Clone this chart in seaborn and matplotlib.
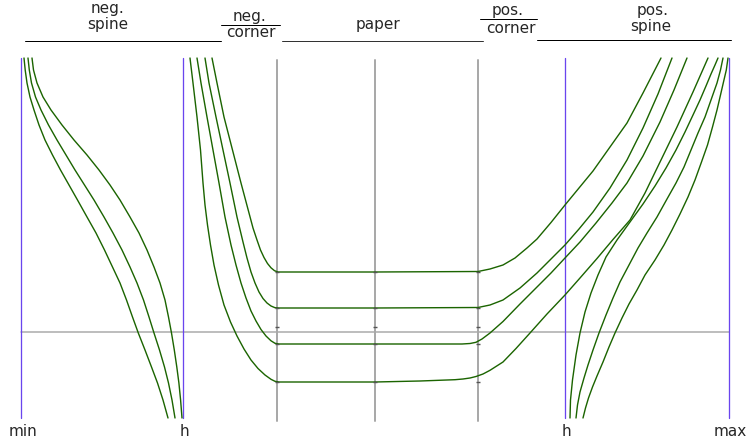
import numpy as np
import pandas as pd
import matplotlib
matplotlib.use("Agg")
import matplotlib.pyplot as plt
import seaborn as sns

# ---------------- data (pixel-like units) ----------------
spine_y = [58, 70, 83, 97, 110, 125, 140, 155, 170, 185, 200, 217, 233, 250,
           267, 283, 300, 317, 333, 350, 367, 383, 400, 418]
# left spine traces (between "min" and "h")
spine_left_1_x = [24, 25.2, 27, 30, 34, 39, 45, 52.5, 60.5, 69, 77.5, 87, 96, 104.5,
                  112.5, 120, 126.5, 132.5, 138.3, 145, 151.5, 157.5, 163, 168]
spine_left_2_x = [28, 29.3, 31.5, 35.5, 41, 48.5, 57, 66, 75, 84.5, 94, 104, 113, 122,
                  130, 137, 143.5, 149, 154, 159.5, 164.5, 168.5, 172, 175]
spine_left_3_x = [32, 33.5, 37, 43, 51, 62, 74, 87, 99, 110, 120, 130, 139, 147,
                  154, 160, 165, 168.5, 171.5, 174.3, 176.8, 178.9, 180.6, 182]

# traces through the corners and across the paper
trace_a_x = [212, 217, 224, 232.5, 241, 249, 253, 257, 260.5, 264, 267.5, 271, 274.5, 278,
             375, 478, 490, 503, 515, 527, 537, 551, 565, 579, 593, 610, 627, 643, 661]
trace_a_y = [58, 83, 117, 150, 183, 213, 228, 240, 250, 257.5, 263.5, 267.8, 270.7, 272,
             272, 271.5, 269, 265, 258, 248, 239, 222.5, 205, 188, 171, 147, 123, 93, 58]
trace_b_x = [205, 209, 216, 223, 230, 237, 243, 247, 251, 255, 259, 263, 267, 271, 275, 279,
             375, 478, 490, 503, 520, 537, 551, 565, 579, 593, 610, 627, 643, 658, 672]
trace_b_y = [58, 83, 117, 150, 183, 217, 242, 258, 272, 283, 292, 298.5, 303, 306, 307.7, 308,
             308, 307.5, 305, 300, 288, 273, 259, 245, 229, 212, 188, 160, 128, 94, 58]
trace_c_x = [197, 201, 207, 213, 219, 225, 231, 236, 241, 246, 251, 256, 261, 266, 271, 275, 279,
             375, 462, 470, 476, 482, 490, 503, 520, 537, 551, 565, 580, 596, 612, 627, 643,
             660, 674, 687]
trace_c_y = [58, 83, 117, 150, 183, 217, 245, 265, 283, 298, 311, 321, 329.5, 336, 340.8, 343.3, 344,
             344, 344, 343.5, 342.3, 339, 333, 321.5, 304, 287, 273, 258, 242, 223, 203, 183, 156,
             122, 90, 58]
trace_d_x = [190, 193, 197, 200.5, 203, 205, 207.5, 210.5, 214, 218.5, 224, 230.5, 237, 244, 251,
             258, 265, 271, 275, 279, 375, 420, 455, 463, 470, 476, 483, 490, 503, 516, 530, 547,
             565, 580, 597, 613, 630, 645, 661, 677, 693, 708]
trace_d_y = [58, 83, 117, 150, 183, 205, 225, 245, 265, 285, 305, 322, 336, 349, 360,
             368.5, 375, 379.3, 381.3, 382, 382, 381, 379.7, 379, 378, 376.5, 374, 370.3, 362, 348.5,
             333, 314, 295, 278, 258.5, 239.5, 220, 193, 160, 127, 92, 58]

# right spine traces (between "h" and "max")
spine_right_1_x = [570, 570.5, 572.5, 576, 580, 585, 591, 598, 606, 617, 630, 643, 655, 666,
                   676, 685, 693, 700, 706, 711, 715, 718]
spine_right_1_y = [418, 400, 380, 355, 333, 312, 293, 275, 257, 240, 222, 204, 186, 168,
                   150, 132, 115, 100, 86, 74, 65, 58]
spine_right_2_x = [576, 577.5, 580, 584, 588, 593, 599, 606, 613, 620, 629, 638, 647, 657, 667,
                   676, 684, 691, 698, 705, 711, 717, 720.5, 723]
spine_right_2_y = [418, 405, 392, 378, 365, 350, 333, 315, 298, 282, 265, 248, 233, 217, 199,
                   183, 167, 150, 133, 117, 100, 83, 70, 58]
spine_right_3_x = [583, 585.5, 588.5, 592.5, 597, 603, 609, 615, 622, 629, 637, 645, 655, 664,
                   672, 680, 688, 695, 701.5, 707.5, 712.5, 717, 720.5, 723.5, 726.3, 728]
spine_right_3_y = [418, 408, 398, 387, 376, 362, 347, 333, 318, 304, 290, 275, 260, 245,
                   230, 214, 197, 180, 162, 145, 127, 110, 95, 82, 70, 58]

# guide lines
bound_x = [21, 183, 565, 729]          # min, h, h, max
bound_labels = ["min", "h", "h", "max"]
region_x = [277, 375, 478]             # corner / paper separators
axis_y = 332
tick_y = [272, 308, 327, 344, 382]

# ---------------- build table ----------------
curves = {
    "sl1": (spine_left_1_x, spine_y),
    "sl2": (spine_left_2_x, spine_y),
    "sl3": (spine_left_3_x, spine_y),
    "ta": (trace_a_x, trace_a_y),
    "tb": (trace_b_x, trace_b_y),
    "tc": (trace_c_x, trace_c_y),
    "td": (trace_d_x, trace_d_y),
    "sr1": (spine_right_1_x, spine_right_1_y),
    "sr2": (spine_right_2_x, spine_right_2_y),
    "sr3": (spine_right_3_x, spine_right_3_y),
}
rows = []
for name, (xs, ys) in curves.items():
    for i, (xv, yv) in enumerate(zip(xs, ys)):
        rows.append({"curve": name, "order": i, "x": xv, "y": yv})
df = pd.DataFrame(rows)

# ---------------- draw ----------------
sns.set_theme(style="white")
plt.rcParams["font.family"] = ["DejaVu Sans"]

W, H = 746, 444
fig = plt.figure(figsize=(W / 100, H / 100), dpi=100)
ax = fig.add_axes([0, 0, 1, 1])

px = 0.72  # one pixel in points
gray = "#a9a9a9"
blue = "#6a45ee"
green = "#1b6400"

ax.plot([bound_x[0], bound_x[-1]], [axis_y, axis_y], color=gray, lw=1.5 * px, zorder=1)
for xv in region_x:
    ax.plot([xv, xv], [60, 421], color=gray, lw=2 * px, zorder=1)
    ax.scatter([xv] * len(tick_y), tick_y, marker="_", s=10, color="#555555",
               linewidths=1.0, zorder=4)
for xv in bound_x:
    ax.plot([xv, xv], [58, 418], color=blue, lw=1.3 * px, zorder=2)

sns.lineplot(data=df, x="x", y="y", units="curve", estimator=None, sort=False,
             color=green, lw=1.4 * px, ax=ax, legend=False, zorder=3)
ax.set_xlim(0, W)
ax.set_ylim(H, 0)
ax.axis("off")

fs = 11
for xv, lab in zip(bound_x, bound_labels):
    ax.text(xv + (2 if lab == "min" else 1), 435.5, lab, ha="center", va="baseline", fontsize=fs)

# header
ax.text(108, 13, "neg.", ha="center", va="baseline", fontsize=fs)
ax.text(108, 28.5, "spine", ha="center", va="baseline", fontsize=fs)
ax.plot([25, 221], [41, 41], color="black", lw=px)

ax.text(250, 21, "neg.", ha="center", va="baseline", fontsize=fs)
ax.plot([221, 280], [25, 25], color="black", lw=px)
ax.text(251, 37, "corner", ha="center", va="baseline", fontsize=fs)

ax.text(378, 29.5, "paper", ha="center", va="baseline", fontsize=fs)
ax.plot([282, 483], [41, 41], color="#333333", lw=px)

ax.text(508, 15, "pos.", ha="center", va="baseline", fontsize=fs)
ax.plot([480, 537], [19, 19], color="black", lw=px)
ax.text(511, 33, "corner", ha="center", va="baseline", fontsize=fs)

ax.text(653, 15, "pos.", ha="center", va="baseline", fontsize=fs)
ax.text(651, 31, "spine", ha="center", va="baseline", fontsize=fs)
ax.plot([537, 731], [40, 40], color="black", lw=px)

fig.savefig("out.png", dpi=100)
